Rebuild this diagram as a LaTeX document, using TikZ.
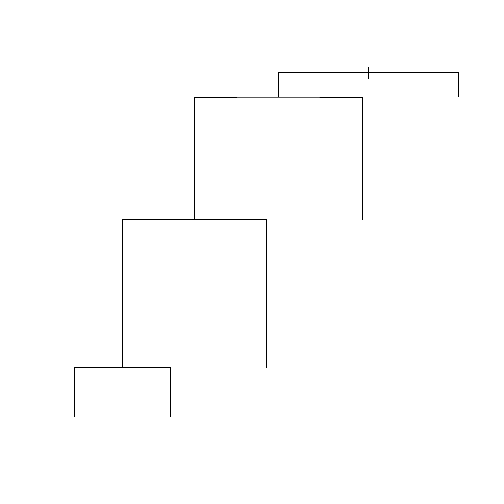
\documentclass[tikz,border=0pt]{standalone}
\begin{document}
\begin{tikzpicture}[x=0.5pt,y=-0.5pt,line width=0.5pt]
        \useasboundingbox (0,0) rectangle (504,504);
        % leaves
        \coordinate (a) at (74.3,416.7);
        \coordinate (b) at (170.3,416.7);
        \coordinate (c) at (266.3,367.7);
        \coordinate (d) at (362.3,220);
        \coordinate (e) at (458.7,96.7);
        % merges
        \coordinate (ab) at (122.3,367.3);
        \coordinate (abc) at (194.3,219.7);
        \coordinate (abcd) at (278.3,97);
        \coordinate (root) at (368.5,72.3);
        \coordinate (roottop) at (368.5,67);
        \coordinate (rootbot) at (368.5,78.7);
        \draw (a) |- (ab) -| (b);
        \draw (ab) |- (abc) -| (c);
        \draw (abc) |- (abcd) -| (d);
        \draw (abcd) |- (root) -| (e);
        \draw (roottop) -- (rootbot);
    \end{tikzpicture}
\end{document}
